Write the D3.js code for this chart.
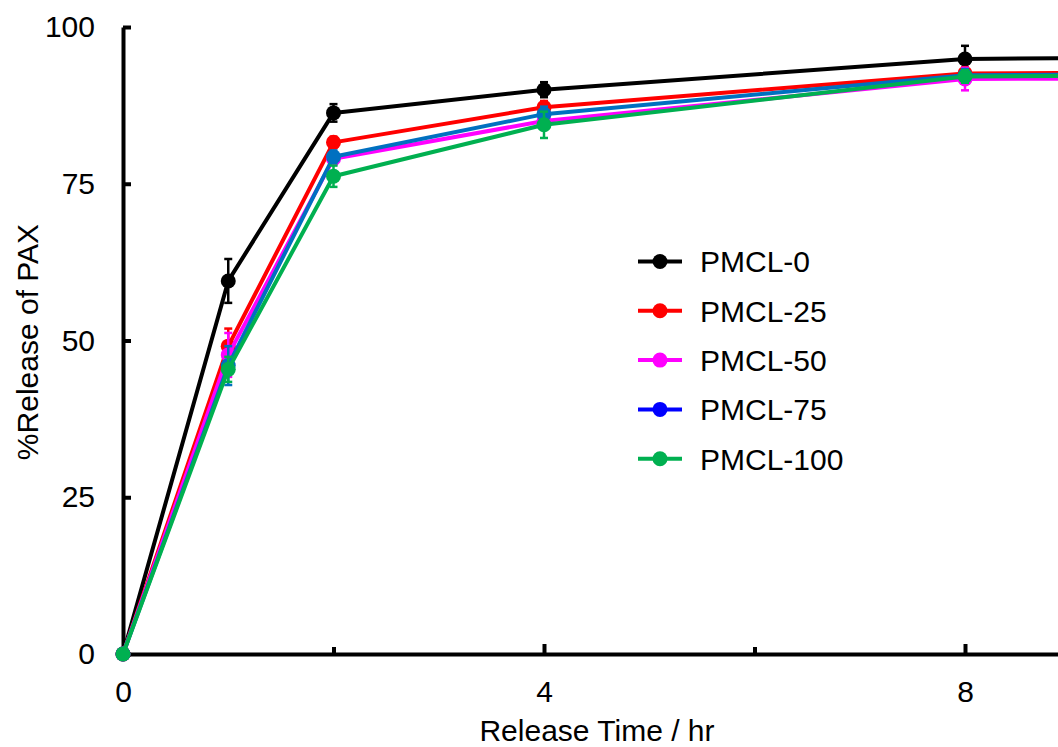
<!DOCTYPE html>
<html>
<head>
<meta charset="utf-8">
<script src="https://cdn.jsdelivr.net/npm/d3@7"></script>
<style>
  html, body { margin: 0; padding: 0; background: #fff; }
  svg { display: block; }
  text { font-family: "Liberation Sans", Arial, sans-serif; fill: #000; }
</style>
</head>
<body>
<svg id="chart" width="1058" height="747"></svg>
<script>
// Release time points (hr)
const times = [0, 1, 2, 4, 8, 12];

// Series names
const seriesNames = ["PMCL-0", "PMCL-25", "PMCL-50", "PMCL-75", "PMCL-100"];

// Cumulative release (%) per series
const pmcl0   = [0, 59.5, 86.3, 90.0, 94.9, 95.5];
const pmcl25  = [0, 49.1, 81.6, 87.2, 92.6, 92.8];
const pmcl50  = [0, 47.7, 79.0, 85.0, 91.7, 92.0];
const pmcl75  = [0, 46.0, 79.3, 86.1, 92.3, 92.6];
const pmcl100 = [0, 45.4, 76.2, 84.4, 92.1, 92.5];

// Standard deviations
const err0   = [0, 3.5, 1.4, 1.2, 2.1, 0.5];
const err25  = [0, 2.8, 0.9, 1.0, 1.0, 0.5];
const err50  = [0, 3.5, 1.0, 1.0, 1.8, 0.5];
const err75  = [0, 3.1, 1.0, 1.2, 1.0, 0.5];
const err100 = [0, 2.0, 1.7, 2.1, 1.0, 0.5];

// Tick values
const yTicks = [0, 25, 50, 75, 100];
const xMajorTicks = [0, 4, 8];
const xMinorTicks = [2, 6];

const lineColors   = ["#000000", "#FF0000", "#FF00FF", "#0070C0", "#00B050"];
const legendColors = ["#000000", "#FF0000", "#FF00FF", "#0000FF", "#00B050"];

const values = [pmcl0, pmcl25, pmcl50, pmcl75, pmcl100];
const errors = [err0, err25, err50, err75, err100];

const svg = d3.select("#chart");

const x = d3.scaleLinear().domain([0, 8]).range([123, 965]);
const y = d3.scaleLinear().domain([0, 100]).range([654, 27]);

// ---- axes ----
const axisG = svg.append("g");

const yAxis = d3.axisLeft(y)
  .tickValues(yTicks)
  .tickSizeInner(-8)
  .tickSizeOuter(0)
  .tickPadding(28);

const yg = axisG.append("g").attr("transform", "translate(123,0)").call(yAxis);
yg.select(".domain").attr("stroke", "#000").attr("stroke-width", 4);
yg.selectAll(".tick line").attr("stroke", "#000").attr("stroke-width", 4);
yg.selectAll(".tick text").style("font-size", "30px")
  .style("font-family", "'Liberation Sans', Arial, sans-serif").attr("fill", "#000");

// the time axis runs on past the right edge of the plot
const xScaleWide = x.copy().domain([0, 12]).range([x(0), x(12)]);

const xAxisMajor = d3.axisBottom(xScaleWide)
  .tickValues(xMajorTicks)
  .tickSizeInner(-10)
  .tickSizeOuter(0)
  .tickPadding(27)
  .tickFormat(d3.format("d"));

const xg = axisG.append("g").attr("transform", "translate(0,654)").call(xAxisMajor);
xg.select(".domain").attr("stroke", "#000").attr("stroke-width", 4);
xg.selectAll(".tick line").attr("stroke", "#000").attr("stroke-width", 4);
xg.selectAll(".tick text").style("font-size", "30px")
  .style("font-family", "'Liberation Sans', Arial, sans-serif").attr("fill", "#000");
xg.selectAll(".tick").filter(d => d === 0).select("line").remove();

const xAxisMinor = d3.axisBottom(xScaleWide)
  .tickValues(xMinorTicks)
  .tickSizeInner(-7)
  .tickSizeOuter(0)
  .tickFormat("");
const xgm = axisG.append("g").attr("transform", "translate(0,654)").call(xAxisMinor);
xgm.select(".domain").remove();
xgm.selectAll(".tick line").attr("stroke", "#000").attr("stroke-width", 4);

// axis titles
svg.append("text")
  .attr("x", 597).attr("y", 741)
  .attr("text-anchor", "middle")
  .style("font-size", "30px")
  .text("Release Time / hr");

svg.append("text")
  .attr("transform", "translate(38,342) rotate(-90)")
  .attr("text-anchor", "middle")
  .style("font-size", "30px")
  .text("%Release of PAX");

// ---- series ----
const line = d3.line().x(d => x(d.t)).y(d => y(d.v));

seriesNames.forEach((name, i) => {
  const pts = times.map((t, k) => ({ t, v: values[i][k], e: errors[i][k] }));
  const g = svg.append("g");
  const col = lineColors[i];

  g.append("path")
    .datum(pts)
    .attr("fill", "none")
    .attr("stroke", col)
    .attr("stroke-width", 4)
    .attr("stroke-linejoin", "round")
    .attr("d", line);

  const eb = g.selectAll(".err").data(pts.filter(p => p.e > 0)).join("g");
  eb.append("line")
    .attr("x1", d => x(d.t)).attr("x2", d => x(d.t))
    .attr("y1", d => y(d.v + d.e)).attr("y2", d => y(d.v - d.e))
    .attr("stroke", col).attr("stroke-width", 2.5);
  [1, -1].forEach(s => {
    eb.append("line")
      .attr("x1", d => x(d.t) - 4).attr("x2", d => x(d.t) + 4)
      .attr("y1", d => y(d.v + s * d.e)).attr("y2", d => y(d.v + s * d.e))
      .attr("stroke", col).attr("stroke-width", 2.5);
  });

  g.selectAll("circle").data(pts).join("circle")
    .attr("cx", d => x(d.t)).attr("cy", d => y(d.v))
    .attr("r", 7.5)
    .attr("fill", col);
});

// ---- legend ----
const legend = svg.append("g").attr("transform", "translate(638,261.5)");
seriesNames.forEach((name, i) => {
  const row = legend.append("g").attr("transform", `translate(0,${i * 49.3})`);
  row.append("line")
    .attr("x1", 0).attr("x2", 44).attr("y1", 0).attr("y2", 0)
    .attr("stroke", legendColors[i]).attr("stroke-width", 4);
  row.append("circle").attr("cx", 22).attr("cy", 0).attr("r", 7.5)
    .attr("fill", legendColors[i]);
  row.append("text")
    .attr("x", 62).attr("y", 0).attr("dy", "0.36em")
    .style("font-size", "30px")
    .text(name);
});
</script>
</body>
</html>
